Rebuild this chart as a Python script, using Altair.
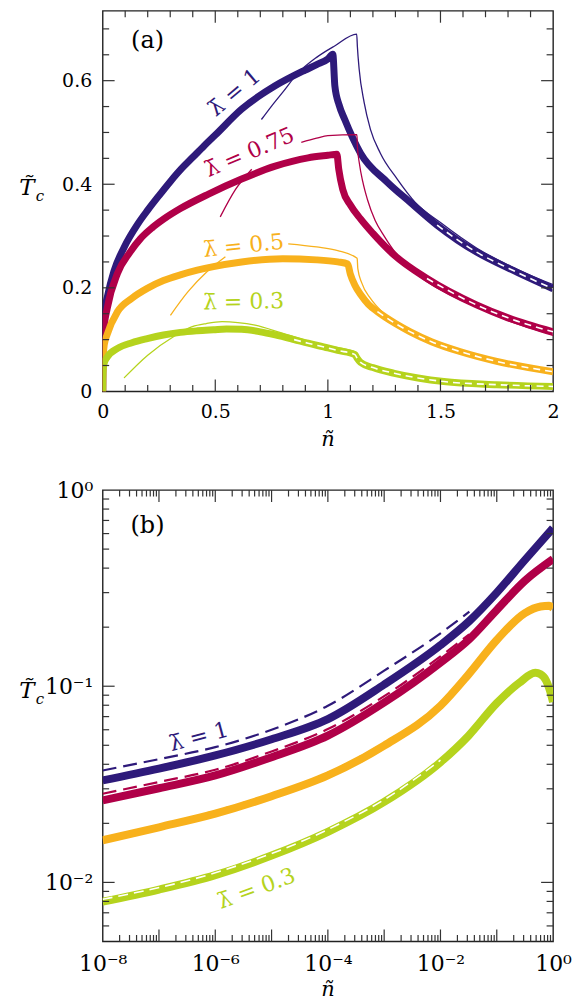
import altair as alt
import pandas as pd

FONT = "DejaVu Serif"
lam_names = ["1", "0.75", "0.5", "0.3"]
lam_colors = ["#2e1a7a", "#b00048", "#f8b11c", "#b5d31d"]

# ---------------- panel (a): full curves (thick) ----------------
a1_n = [0, 0.0005, 0.003, 0.01, 0.022, 0.05, 0.095, 0.157, 0.2, 0.25, 0.3, 0.35, 0.4, 0.45, 0.5, 0.617, 0.766, 0.897, 0.95, 1.0, 1.022, 1.031, 1.05, 1.075, 1.145, 1.264, 1.366, 1.485, 1.66, 1.806, 2.0]
a1_T = [0, 0.09, 0.125, 0.158, 0.185, 0.232, 0.278, 0.324, 0.35, 0.378, 0.405, 0.43, 0.452, 0.474, 0.495, 0.545, 0.59, 0.62, 0.631, 0.642, 0.651, 0.59, 0.553, 0.525, 0.46, 0.404, 0.365, 0.321, 0.269, 0.237, 0.198]
a2_n = [0, 0.0005, 0.003, 0.007, 0.02, 0.066, 0.12, 0.168, 0.22, 0.272, 0.345, 0.47, 0.617, 0.766, 0.912, 1.0, 1.04, 1.048, 1.066, 1.1, 1.145, 1.2, 1.295, 1.44, 1.66, 1.8, 2.0]
a2_T = [0, 0.06, 0.1, 0.125, 0.16, 0.228, 0.268, 0.295, 0.316, 0.333, 0.353, 0.381, 0.41, 0.435, 0.451, 0.456, 0.458, 0.43, 0.39, 0.36, 0.333, 0.305, 0.263, 0.218, 0.167, 0.142, 0.115]
a3_n = [0, 0.0005, 0.003, 0.007, 0.02, 0.066, 0.13, 0.198, 0.27, 0.345, 0.42, 0.492, 0.617, 0.8, 0.95, 1.044, 1.088, 1.1, 1.12, 1.147, 1.18, 1.22, 1.3, 1.366, 1.46, 1.586, 1.75, 2.0]
a3_T = [0, 0.04, 0.07, 0.09, 0.11, 0.154, 0.18, 0.199, 0.214, 0.225, 0.234, 0.241, 0.25, 0.256, 0.254, 0.25, 0.246, 0.226, 0.205, 0.186, 0.168, 0.154, 0.131, 0.115, 0.096, 0.077, 0.058, 0.038]
a4_n = [0, 0.0005, 0.003, 0.007, 0.02, 0.066, 0.13, 0.198, 0.27, 0.345, 0.42, 0.492, 0.55, 0.617, 0.7, 0.766, 0.85, 0.912, 1.0, 1.044, 1.12, 1.13, 1.145, 1.2, 1.295, 1.4, 1.515, 1.75, 2.0]
a4_T = [0, 0.025, 0.045, 0.055, 0.066, 0.083, 0.094, 0.102, 0.109, 0.114, 0.117, 0.119, 0.1205, 0.12, 0.115, 0.109, 0.1, 0.093, 0.084, 0.079, 0.071, 0.064, 0.056, 0.046, 0.035, 0.026, 0.019, 0.013, 0.0096]

# ---------------- panel (a): approximations (thin) ----------------
t1_n = [0.705, 0.75, 0.8, 0.868, 0.95, 1.03, 1.128, 1.131, 1.139, 1.161, 1.189, 1.233, 1.308, 1.388, 1.5, 1.66, 1.8, 2.0]
t1_T = [0.525, 0.551, 0.578, 0.615, 0.645, 0.667, 0.69, 0.666, 0.622, 0.558, 0.506, 0.46, 0.41, 0.365, 0.326, 0.277, 0.244, 0.206]
t2a_n = [0.522, 0.59, 0.662]
t2a_T = [0.337, 0.39, 0.429]
t2b_n = [0.882, 0.95, 1.0, 1.129, 1.131, 1.14, 1.155, 1.176, 1.21, 1.25, 1.3, 1.367, 1.44, 1.55, 1.66, 1.8, 2.0]
t2b_T = [0.481, 0.489, 0.494, 0.496, 0.474, 0.44, 0.405, 0.37, 0.33, 0.3, 0.268, 0.237, 0.212, 0.185, 0.163, 0.137, 0.108]
t3a_n = [0.301, 0.38, 0.463, 0.545]
t3a_T = [0.147, 0.193, 0.231, 0.26]
t3b_n = [0.824, 0.95, 1.044, 1.13, 1.133, 1.15, 1.19, 1.25, 1.3, 1.366, 1.5, 1.75, 2.0]
t3b_T = [0.285, 0.279, 0.272, 0.257, 0.237, 0.21, 0.179, 0.15, 0.133, 0.117, 0.09, 0.06, 0.041]
t4_n = [0.095, 0.2, 0.316, 0.398, 0.46, 0.53, 0.6, 0.677, 0.794, 0.9, 1.0, 1.128, 1.14, 1.16, 1.2, 1.3, 1.5, 1.75, 2.0]
t4_T = [0.026, 0.07, 0.106, 0.125, 0.131, 0.1346, 0.133, 0.128, 0.113, 0.099, 0.088, 0.075, 0.065, 0.057, 0.048, 0.037, 0.021, 0.014, 0.011]
# where the white-dashed asymptote runs on top of the thick curves
a_dash_from = [1.45, 1.4, 1.2, 0.78]

# ---------------- panel (b): log-log ----------------
b1_n = [1e-8, 1e-7, 1e-6, 1e-5, 1e-4, 1e-3, 1e-2, 0.0326, 0.1, 0.316, 1.0]
b1_T = [0.0331, 0.038, 0.0444, 0.0537, 0.068, 0.102, 0.162, 0.215, 0.3, 0.44, 0.64]
b2_n = [1e-8, 1e-7, 1e-6, 1e-5, 1e-4, 1e-3, 1e-2, 0.0326, 0.1, 0.316, 1.0]
b2_T = [0.0262, 0.0302, 0.0351, 0.0435, 0.056, 0.0826, 0.132, 0.174, 0.245, 0.345, 0.445]
b3_n = [1e-8, 1e-7, 1e-6, 1e-5, 1e-4, 1e-3, 1e-2, 0.0316, 0.1, 0.316, 0.6, 0.85, 1.0]
b3_T = [0.0164, 0.0191, 0.0224, 0.0275, 0.0351, 0.0498, 0.0795, 0.115, 0.172, 0.236, 0.255, 0.257, 0.25]
b4_n = [1e-8, 1e-7, 1e-6, 1e-5, 1e-4, 1e-3, 1e-2, 0.0316, 0.1, 0.25, 0.484, 0.6, 0.75, 0.85, 0.95, 1.0]
b4_T = [0.00798, 0.0092, 0.0109, 0.0137, 0.0181, 0.0257, 0.041, 0.056, 0.082, 0.104, 0.117, 0.115, 0.107, 0.098, 0.088, 0.083]
# small-n approximations (dashed)
bd1_n = [1e-8, 1e-7, 1e-6, 1e-5, 1e-4, 1e-3, 1e-2, 0.0326]
bd1_T = [0.0372, 0.0425, 0.0489, 0.060, 0.0795, 0.12, 0.186, 0.24]
bd2_n = [1e-8, 1e-7, 1e-6, 1e-5, 1e-4, 1e-3, 1e-2, 0.0324]
bd2_T = [0.0283, 0.0325, 0.0375, 0.0465, 0.0605, 0.089, 0.142, 0.184]
bd3_n = [1e-8, 1e-6, 1e-4, 1e-3, 1e-2, 0.03]
bd3_T = [0.0169, 0.0231, 0.0362, 0.0513, 0.082, 0.117]
bd4_n = [1e-8, 1e-6, 1e-4, 1e-3, 1e-2]
bd4_T = [0.0082, 0.0112, 0.0186, 0.0264, 0.042]

# tick values
a_x_major = [0.5, 1.0, 1.5]
a_x_minor = [0.1, 0.2, 0.3, 0.4, 0.6, 0.7, 0.8, 0.9, 1.1, 1.2, 1.3, 1.4, 1.6, 1.7, 1.8, 1.9]
a_y_major = [0.2, 0.4, 0.6]
a_y_minor = [0.05, 0.1, 0.15, 0.25, 0.3, 0.35, 0.45, 0.5, 0.55, 0.65, 0.7]
b_x_major = [10.0 ** d for d in range(-7, 0)]
b_x_minor = [k * 10.0 ** d for d in range(-8, 0) for k in range(2, 10)]
b_y_major = [0.01, 0.1]
b_y_minor = [k * 10.0 ** d for d in range(-3, 0) for k in range(2, 10) if k * 10.0 ** d > 0.0051]


def frame(items):
    rows = []
    for lam, seg, ns, Ts in items:
        for n, T in zip(ns, Ts):
            rows.append({"lam": lam, "seg": seg, "n": n, "T": T})
    return pd.DataFrame(rows)


color = alt.Color("lam:N", scale=alt.Scale(domain=lam_names, range=lam_colors), legend=None)


def panel(W, H, xscale, yscale, xaxis, yaxis, layers_fn, xt, yt, letter, letter_y, ytitle_y):
    X = lambda: alt.X("n:Q", scale=xscale, axis=xaxis)
    Y = lambda: alt.Y("T:Q", scale=yscale, axis=yaxis)
    layers = layers_fn(X, Y)
    tick = dict(color="#333", strokeWidth=1.2)
    xmaj, xmin, ymaj, ymin = xt[0], xt[1], yt[0], yt[1]
    for vals, L in ((xmaj, 12), (xmin, 6.5)):
        d = pd.DataFrame({"n": vals})
        layers.append(alt.Chart(d).mark_rule(**tick).encode(x=X(), y=alt.value(H), y2=alt.value(H - L)))
        layers.append(alt.Chart(d).mark_rule(**tick).encode(x=X(), y=alt.value(0), y2=alt.value(L)))
    for vals, L in ((ymaj, 12), (ymin, 6.5)):
        d = pd.DataFrame({"T": vals})
        layers.append(alt.Chart(d).mark_rule(**tick).encode(y=Y(), x=alt.value(0), x2=alt.value(L)))
        layers.append(alt.Chart(d).mark_rule(**tick).encode(y=Y(), x=alt.value(W), x2=alt.value(W - L)))
    one = alt.Data(values=[{}])
    layers.append(alt.Chart(one).mark_text(text=letter, font=FONT, fontSize=24, align="center", baseline="middle", color="black")
                  .encode(x=alt.value(45), y=alt.value(letter_y)))
    layers.append(alt.Chart(one).mark_text(text="T̃", font=FONT, fontSize=23, fontStyle="italic", align="center", baseline="middle", color="black")
                  .encode(x=alt.value(-76), y=alt.value(ytitle_y)))
    layers.append(alt.Chart(one).mark_text(text="c", font=FONT, fontSize=15, fontStyle="italic", align="center", baseline="middle", color="black")
                  .encode(x=alt.value(-63), y=alt.value(ytitle_y + 8)))
    layers.append(alt.Chart(one).mark_text(text="ñ", font=FONT, fontSize=21, fontStyle="italic", align="center", baseline="middle", color="black")
                  .encode(x=alt.value(W / 2), y=alt.value(H + 49)))
    return alt.layer(*layers).properties(width=W, height=H)


# ---------- panel (a) ----------
WA, HA = 452, 382
xs_a = alt.Scale(domain=[0, 2], nice=False, zero=False)
ys_a = alt.Scale(domain=[0, 0.735], nice=False, zero=False)
ax_common = dict(ticks=False, domain=False, grid=False, labelFont=FONT, labelColor="black",
                 labelOverlap=False, labelFlush=False, title=None)
xa_axis = alt.Axis(values=[0, 0.5, 1, 1.5, 2], labelFontSize=19, labelPadding=11,
                   labelExpr="datum.value == 0 ? '0' : datum.value == 1 ? '1' : datum.value == 2 ? '2' : format(datum.value, '.1f')",
                   **ax_common)
ya_axis = alt.Axis(values=[0, 0.2, 0.4, 0.6], labelFontSize=19, labelPadding=11,
                   labelExpr="datum.value == 0 ? '0' : format(datum.value, '.1f')", **ax_common)

thick_a = frame([("1", "s", a1_n, a1_T), ("0.75", "s", a2_n, a2_T), ("0.5", "s", a3_n, a3_T), ("0.3", "s", a4_n, a4_T)])
thin_a = frame([("1", "a", t1_n, t1_T), ("0.75", "a", t2a_n, t2a_T), ("0.75", "b", t2b_n, t2b_T),
                ("0.5", "a", t3a_n, t3a_T), ("0.5", "b", t3b_n, t3b_T), ("0.3", "a", t4_n, t4_T)])
start = dict(zip(lam_names, a_dash_from))
white_a = thick_a[thick_a.apply(lambda r: r["n"] >= start[r["lam"]], axis=1)]

labels_a = [("λ̄ = 1", 0.585, 0.577, 320, "1"), ("λ̄ = 0.75", 0.652, 0.4615, 337, "0.75"),
            ("λ̄ = 0.5", 0.626, 0.281, 354, "0.5"), ("λ̄ = 0.3", 0.626, 0.173, 359, "0.3")]


def layers_a(X, Y):
    L = [
        alt.Chart(thick_a).mark_line(strokeWidth=7, clip=True, interpolate="monotone").encode(x=X(), y=Y(), color=color, detail="seg:N", order="n:Q"),
        alt.Chart(thin_a).mark_line(strokeWidth=1.3, clip=True, interpolate="monotone").encode(x=X(), y=Y(), color=color, detail="seg:N", order="n:Q"),
        alt.Chart(white_a).mark_line(strokeWidth=1.6, color="white", strokeDash=[7, 5], clip=True, interpolate="monotone").encode(x=X(), y=Y(), detail="lam:N", order="n:Q"),
    ]
    one = alt.Data(values=[{}])
    for txt, xn, yT, ang, lam in labels_a:
        L.append(alt.Chart(one).mark_text(text=txt, font=FONT, fontSize=22, angle=ang, align="center", baseline="middle",
                                          color=lam_colors[lam_names.index(lam)])
                 .encode(x=alt.datum(xn, scale=xs_a), y=alt.datum(yT, scale=ys_a)))
    return L


panel_a = panel(WA, HA, xs_a, ys_a, xa_axis, ya_axis, layers_a, (a_x_major, a_x_minor), (a_y_major, a_y_minor), "(a)", 30, 178)

# ---------- panel (b) ----------
WB, HB = 452, 453
xs_b = alt.Scale(type="log", domain=[1e-8, 1], nice=False)
ys_b = alt.Scale(type="log", domain=[0.005, 1], nice=False)
xb_axis = alt.Axis(values=[1e-8, 1e-6, 1e-4, 1e-2, 1], labelFontSize=22, labelPadding=12,
                   labelExpr="datum.value < 3e-8 ? '10⁻⁸' : datum.value < 3e-6 ? '10⁻⁶' : datum.value < 3e-4 ? '10⁻⁴' : datum.value < 3e-2 ? '10⁻²' : '10⁰'",
                   **ax_common)
yb_axis = alt.Axis(values=[0.01, 0.1, 1], labelFontSize=22, labelPadding=10,
                   labelExpr="datum.value < 0.03 ? '10⁻²' : datum.value < 0.3 ? '10⁻¹' : '10⁰'", **ax_common)

thick_b = frame([("1", "s", b1_n, b1_T), ("0.75", "s", b2_n, b2_T), ("0.5", "s", b3_n, b3_T), ("0.3", "s", b4_n, b4_T)])
dash_b = frame([("1", "d", bd1_n, bd1_T), ("0.75", "d", bd2_n, bd2_T)])
dash_b3 = frame([("0.5", "d", bd3_n, bd3_T)])
white_b = frame([("0.3", "d", bd4_n, bd4_T)])

labels_b = [("λ̄ = 1", 5.1e-7, 0.0552, 345, "1"), ("λ̄ = 0.3", 5.4e-6, 0.0093, 340, "0.3")]


def layers_b(X, Y):
    L = [
        alt.Chart(thick_b).mark_line(strokeWidth=8, clip=True, interpolate="monotone").encode(x=X(), y=Y(), color=color, detail="seg:N", order="n:Q"),
        alt.Chart(dash_b).mark_line(strokeWidth=2.2, strokeDash=[14, 7], clip=True, interpolate="monotone").encode(x=X(), y=Y(), color=color, detail="seg:N", order="n:Q"),
        alt.Chart(dash_b3).mark_line(strokeWidth=2.5, strokeDash=[4, 14], clip=True, interpolate="monotone").encode(x=X(), y=Y(), color=color, order="n:Q"),
        alt.Chart(white_b).mark_line(strokeWidth=1.6, color="white", strokeDash=[10, 6], clip=True, interpolate="monotone").encode(x=X(), y=Y(), order="n:Q"),
    ]
    one = alt.Data(values=[{}])
    for txt, xn, yT, ang, lam in labels_b:
        L.append(alt.Chart(one).mark_text(text=txt, font=FONT, fontSize=22, angle=ang, align="center", baseline="middle",
                                          color=lam_colors[lam_names.index(lam)])
                 .encode(x=alt.datum(xn, scale=xs_b), y=alt.datum(yT, scale=ys_b)))
    return L


panel_b = panel(WB, HB, xs_b, ys_b, xb_axis, yb_axis, layers_b, (b_x_major, b_x_minor), (b_y_major, b_y_minor), "(b)", 36, 202)

chart = (
    alt.vconcat(panel_a, panel_b, spacing=27)
    .resolve_scale(x="independent", y="independent")
    .properties(padding={"left": 10, "top": -1, "right": 0, "bottom": 0}, background="white")
    .configure_view(stroke="#222", strokeWidth=1.4)
)

chart.save("out.html", embed_options={"renderer": "svg", "actions": False})
